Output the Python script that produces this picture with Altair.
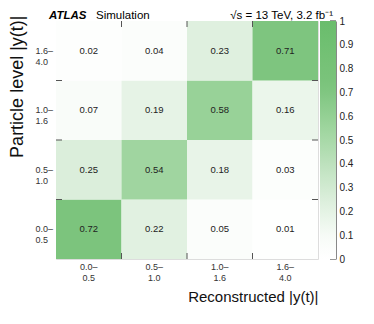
import altair as alt
import pandas as pd

FONT = "Liberation Sans"

reco_bins = ["0.0–|0.5", "0.5–|1.0", "1.0–|1.6", "1.6–|4.0"]
part_bins = ["0.0–|0.5", "0.5–|1.0", "1.0–|1.6", "1.6–|4.0"]

# rows: particle-level bin, columns: reconstructed bins
row_00_05 = [0.72, 0.22, 0.05, 0.01]
row_05_10 = [0.25, 0.54, 0.18, 0.03]
row_10_16 = [0.07, 0.19, 0.58, 0.16]
row_16_40 = [0.02, 0.04, 0.23, 0.71]
rows = [row_00_05, row_05_10, row_10_16, row_16_40]

cbar_ticks = [0, 0.1, 0.2, 0.3, 0.4, 0.5, 0.6, 0.7, 0.8, 0.9, 1]
color_stops = [0, 0.1, 0.23, 0.58, 0.72, 1]
color_range = ["#ffffff", "#f6fbf6", "#dff0df", "#98d298", "#7cc47d", "#6abd6c"]

label_left = ["ATLAS", "Simulation"]
label_right = "√s = 13 TeV, 3.2 fb⁻¹"

recs = []
for pi, r in enumerate(rows):
    for ri, v in enumerate(r):
        recs.append({"reco": reco_bins[ri], "part": part_bins[pi], "v": v, "t": f"{v:.2f}"})
df = pd.DataFrame(recs)

W, H = 262, 238
y_domain = list(reversed(part_bins))

xs = alt.Scale(type="band", domain=reco_bins, paddingInner=0, paddingOuter=0)
ys = alt.Scale(type="band", domain=y_domain, paddingInner=0, paddingOuter=0)

x_axis = alt.Axis(
    labelExpr="split(datum.value, '|')", labelFont=FONT, labelFontSize=9, labelColor="#333",
    labelAngle=0, labelPadding=3, labelLineHeight=11, ticks=False, domain=False,
    title="Reconstructed |y(t)|", titleFont=FONT, titleFontSize=15, titleFontWeight="normal",
    titleColor="#111", titleAnchor="end", titleBaseline="alphabetic", titleY=42,
)
y_axis = alt.Axis(
    labelExpr="split(datum.value, '|')", labelFont=FONT, labelFontSize=9, labelColor="#333",
    labelAlign="left", labelBaseline="middle", labelPadding=21, labelLineHeight=11,
    ticks=False, domain=False,
    title="Particle level |y(t)|", titleFont=FONT, titleFontSize=18, titleFontWeight="normal",
    titleColor="#111", titleAnchor="end", titleX=-30, titleY=-6,
)

color = alt.Color(
    "v:Q",
    scale=alt.Scale(domain=color_stops, range=color_range, interpolate="rgb"),
    legend=alt.Legend(
        orient="none", legendX=W + 2, legendY=0, direction="vertical", title=None,
        gradientLength=H, gradientThickness=16, gradientStrokeWidth=0,
        values=[0, 1], labelOpacity=0, labelFontSize=1, padding=0,
    ),
)

cells = alt.Chart(df).mark_rect().encode(
    x=alt.X("reco:N", scale=xs, axis=x_axis),
    y=alt.Y("part:N", scale=ys, axis=y_axis),
    color=color,
)
texts = alt.Chart(df).mark_text(font=FONT, fontSize=9.5, color="#222").encode(
    x=alt.X("reco:N", scale=xs), y=alt.Y("part:N", scale=ys), text="t:N"
)

xb = pd.DataFrame({"reco": reco_bins[1:]})
yb = pd.DataFrame({"part": y_domain[1:]})
tick_style = dict(color="#555", strokeWidth=1)
top_ticks = alt.Chart(xb).mark_rule(**tick_style).encode(
    x=alt.X("reco:N", scale=xs, bandPosition=0), y=alt.value(0), y2=alt.value(6))
bot_ticks = alt.Chart(xb).mark_rule(**tick_style).encode(
    x=alt.X("reco:N", scale=xs, bandPosition=0), y=alt.value(H - 6), y2=alt.value(H))
left_ticks = alt.Chart(yb).mark_rule(**tick_style).encode(
    y=alt.Y("part:N", scale=ys, bandPosition=0), x=alt.value(0), x2=alt.value(6))
right_ticks = alt.Chart(yb).mark_rule(**tick_style).encode(
    y=alt.Y("part:N", scale=ys, bandPosition=0), x=alt.value(W - 6), x2=alt.value(W))

atlas = alt.Chart(pd.DataFrame({"t": [label_left[0]]})).mark_text(
    font=FONT, fontSize=11.5, fontWeight="bold", fontStyle="italic", align="left",
    baseline="alphabetic", color="#000").encode(text="t:N", x=alt.value(-7), y=alt.value(-2))
sim = alt.Chart(pd.DataFrame({"t": [label_left[1]]})).mark_text(
    font=FONT, fontSize=11.5, align="left", baseline="alphabetic", color="#000").encode(
    text="t:N", x=alt.value(40), y=alt.value(-2))
energy = alt.Chart(pd.DataFrame({"t": [label_right]})).mark_text(
    font=FONT, fontSize=11.5, align="right", baseline="alphabetic", color="#000").encode(
    text="t:N", x=alt.value(277), y=alt.value(-2))

main = alt.layer(cells, texts, top_ticks, bot_ticks, left_ticks, right_ticks, atlas, sim, energy)

cbar = alt.Chart(pd.DataFrame({"v": cbar_ticks})).mark_rule(color="#333", strokeWidth=1).encode(
    y=alt.Y("v:Q", scale=alt.Scale(domain=[0, 1], nice=False, zero=False),
            axis=alt.Axis(orient="right", offset=18, values=cbar_ticks, format=".1~f",
                          ticks=False, grid=False, title=None, domainColor="#888",
                          labelFont=FONT, labelFontSize=10, labelColor="#222",
                          labelPadding=3, labelBaseline="middle", labelFlush=False,
                          labelOverlap=False)),
    x=alt.value(W + 12), x2=alt.value(W + 18),
)

chart = alt.layer(main, cbar).resolve_scale(y="independent").properties(
    width=W, height=H,
    padding={"left": 48, "top": 13, "right": 40, "bottom": 49},
    autosize=alt.AutoSizeParams(type="none"),
).configure_view(stroke="#666", strokeWidth=1).configure(background="white")

chart.save("out.html", embed_options={"renderer": "svg", "actions": False})
